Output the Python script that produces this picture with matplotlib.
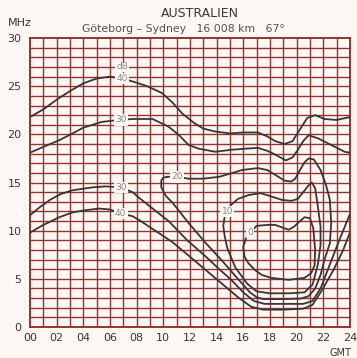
import numpy as np
import matplotlib
matplotlib.use("Agg")
import matplotlib.pyplot as plt

# hours (GMT) and frequency (MHz)
hours = list(range(0, 25, 2))
hour_labels = ["00", "02", "04", "06", "08", "10", "12", "14", "16", "18", "20", "22", "24"]
mhz_ticks = [0, 5, 10, 15, 20, 25, 30]

# 40 dB contour, upper branch
db40_up_h = [0, 1, 2, 3, 4, 5, 6, 6.9, 7.7, 8.8, 9.9, 10.7, 11.4, 12.3, 13.0, 13.9, 15.0, 16.0,
             17.1, 17.8, 18.4, 19.1, 19.7, 20.2, 20.8, 21.4, 22.1, 23.0, 24.0]
db40_up_f = [21.8, 22.6, 23.6, 24.5, 25.3, 25.8, 26.0, 25.8, 25.5, 25.0, 24.3, 23.3, 22.2, 21.2, 20.6,
             20.3, 20.1, 20.2, 20.2, 19.8, 19.3, 19.0, 19.3, 20.4, 21.7, 22.0, 21.6, 21.5, 21.8]

# 40 dB contour, lower branch
db40_lo_h = [0, 1, 2.2, 3.2, 4.0, 5.2, 6.0, 6.8, 7.7, 8.2, 9.4, 10.7, 12.0, 13.2, 14.4, 15.6, 16.6,
             17.5, 19.0, 20.5, 21.2, 21.9, 22.8, 23.5, 24.0]
db40_lo_f = [9.8, 10.6, 11.4, 11.9, 12.1, 12.3, 12.2, 11.8, 11.5, 11.1, 10.0, 8.8, 7.3, 5.9, 4.5, 3.1, 2.1,
             1.8, 1.8, 1.9, 2.3, 3.8, 6.0, 8.0, 9.8]

# 30 dB contour, upper branch
db30_up_h = [0, 1, 2.2, 3.2, 4.0, 5.4, 6.7, 7.7, 9.2, 10.4, 11.2, 11.9, 12.7, 13.9, 15.1, 16.0, 17.1,
             17.8, 18.4, 19.2, 19.7, 20.1, 20.5, 20.9, 21.6, 22.6, 23.6, 24.0]
db30_up_f = [18.1, 18.7, 19.4, 20.1, 20.7, 21.3, 21.5, 21.6, 21.6, 20.8, 19.9, 18.9, 18.5, 18.2, 18.4,
             18.5, 18.6, 18.3, 17.9, 17.3, 17.6, 18.4, 19.3, 19.9, 19.6, 18.9, 18.2, 18.1]

# 30 dB contour, lower branch
db30_lo_h = [0, 0.7, 1.5, 2.3, 3.2, 4.7, 5.7, 6.8, 7.7, 8.2, 9.2, 10.4, 11.8, 13.2, 14.2, 15.1, 16.0,
             16.8, 17.6, 19.0, 20.5, 21.2, 21.8, 22.5, 23.2, 24.0]
db30_lo_f = [11.6, 12.4, 13.2, 13.8, 14.2, 14.5, 14.6, 14.5, 14.0, 13.4, 12.3, 11.0, 9.0, 7.3, 6.0, 4.9,
             3.6, 2.7, 2.4, 2.4, 2.4, 2.7, 4.0, 6.5, 9.0, 11.7]

# 20 dB contour (closed)
db20_h = [10.3, 11.0, 11.9, 13.0, 14.2, 15.2, 15.9, 17.1, 17.8, 18.4, 19.1, 19.6, 19.9, 20.3, 20.6,
          20.9, 21.3, 21.8, 22.2, 22.5, 22.6, 22.5, 22.1, 21.8, 21.4, 20.9, 20.3, 19.0, 17.5, 17.0,
          16.5, 15.6, 14.4, 13.2, 11.9, 10.7, 10.2, 9.85, 9.85, 10.0, 10.3]
db20_f = [15.6, 15.6, 15.4, 15.4, 15.6, 16.0, 16.3, 16.5, 16.3, 15.8, 15.2, 15.1, 15.4, 16.4, 17.1,
          17.5, 17.4, 16.3, 14.8, 13.2, 10.8, 8.7, 7.0, 5.4, 4.0, 3.2, 2.95, 2.9, 2.9, 3.1,
          3.6, 5.0, 6.9, 8.7, 10.8, 12.9, 13.6, 14.5, 15.2, 15.5, 15.6]

# 10 dB contour (closed)
db10_h = [14.8, 15.1, 15.6, 16.4, 17.3, 18.0, 18.9, 19.6, 20.1, 20.5, 20.9, 21.15, 21.4, 21.6, 21.8,
          21.8, 21.6, 21.2, 20.6, 19.5, 18.0, 17.0, 16.3, 15.4, 14.8, 14.6, 14.5, 14.6, 14.8]
db10_f = [12.0, 12.7, 13.3, 13.7, 13.9, 13.6, 13.2, 13.1, 13.3, 14.0, 14.7, 15.0, 14.4, 12.5, 10.4,
          8.5, 6.5, 4.4, 3.6, 3.5, 3.5, 3.7, 4.5, 6.2, 8.2, 9.5, 10.5, 11.4, 12.0]

# 0 dB contour (closed)
db0_h = [16.5, 17.0, 17.8, 18.4, 19.0, 19.4, 19.8, 20.1, 20.6, 21.0, 21.25, 21.4, 21.35, 21.1, 20.6,
         19.4, 18.1, 17.4, 16.9, 16.4, 16.1, 16.0, 16.2, 16.5]
db0_f = [9.8, 10.5, 10.6, 10.6, 10.3, 10.1, 10.4, 10.8, 11.4, 11.3, 10.3, 8.0, 6.4, 5.6, 5.1,
         4.9, 5.1, 5.4, 5.9, 6.6, 7.3, 8.3, 9.2, 9.8]

# contour labels: text, hour, MHz
label_text = ["40", "30", "30", "40", "20", "10", "0"]
label_h = [6.9, 6.8, 6.8, 6.8, 11.0, 14.8, 16.5]
label_f = [25.8, 21.5, 14.5, 11.8, 15.6, 12.0, 9.8]

paper = "#fdf7f4"
grid_col = "#913533"
ink = "#3a3636"

fig = plt.figure(figsize=(3.57, 3.58), dpi=100, facecolor=paper)
ax = fig.add_axes([0.084, 0.0866, 0.896, 0.807])
ax.set_facecolor(paper)

ax.set_xlim(0, 24)
ax.set_ylim(0, 30)
for h in range(1, 24):
    ax.axvline(h, color=grid_col, lw=1.0, zorder=1)
for f in range(1, 30):
    ax.axhline(f, color=grid_col, lw=1.0, zorder=1)
for s in ax.spines.values():
    s.set_color(grid_col)
    s.set_linewidth(1.4)

curves = [(db40_up_h, db40_up_f), (db40_lo_h, db40_lo_f), (db30_up_h, db30_up_f),
          (db30_lo_h, db30_lo_f), (db20_h, db20_f), (db10_h, db10_f), (db0_h, db0_f)]
for hh, ff in curves:
    ax.plot(hh, ff, color=ink, lw=1.3, zorder=3, solid_capstyle="round", solid_joinstyle="round")

for t, h, f in zip(label_text, label_h, label_f):
    ax.text(h, f, t, fontsize=6.5, color="#8a8686", ha="center", va="center", zorder=4,
            bbox=dict(boxstyle="square,pad=0.15", fc=paper, ec="none"))
ax.text(6.9, 27.0, "dB", fontsize=6.5, color="#8a8686", ha="center", va="center", zorder=4,
        bbox=dict(boxstyle="square,pad=0.1", fc=paper, ec="none"))

ax.set_xticks(hours)
ax.set_xticklabels(hour_labels)
ax.set_yticks(mhz_ticks)
ax.tick_params(length=0, labelsize=8, colors=ink, pad=4)
ax.tick_params(axis="y", pad=6)

fig.text(0.56, 0.963, "AUSTRALIEN", fontsize=9, color=ink, ha="center", va="center")
fig.text(0.515, 0.920, "Göteborg – Sydney   16 008 km   67°", fontsize=7.8, color="#555050",
         ha="center", va="center")
fig.text(0.022, 0.937, "MHz", fontsize=8, color=ink, ha="left", va="center")
fig.text(0.985, 0.015, "GMT", fontsize=7, color=ink, ha="right", va="center")

fig.savefig("out.png", dpi=100, facecolor=paper)
